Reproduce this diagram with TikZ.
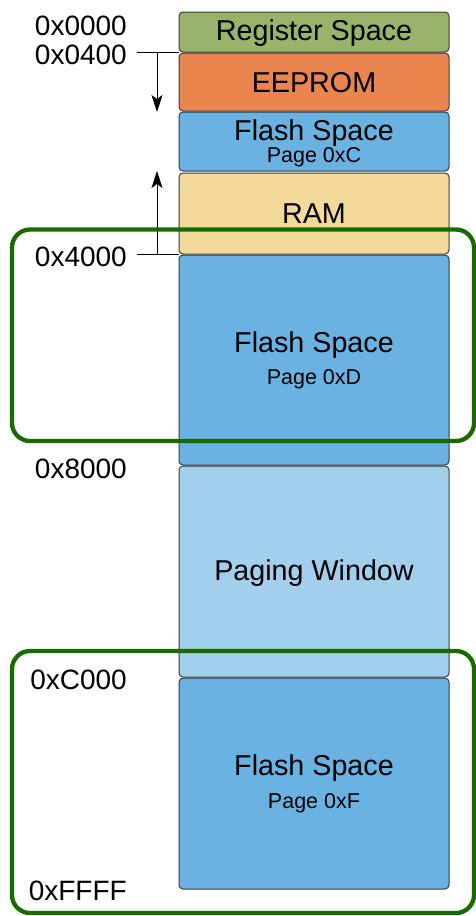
\documentclass[tikz,border=0pt]{standalone}
\usepackage{fontspec}
\setmainfont{Liberation Sans}
\usetikzlibrary{arrows.meta}
\definecolor{regc}{HTML}{97B46A}
\definecolor{eepc}{HTML}{EA8550}
\definecolor{flashc}{HTML}{6AB2E2}
\definecolor{ramc}{HTML}{F3DA9B}
\definecolor{pagec}{HTML}{A2CFEC}
\definecolor{framec}{HTML}{176B00}
\definecolor{edgec}{HTML}{3A3A3A}
\tikzset{
  memblk/.style={draw=edgec, line width=1pt, rounded corners=4pt, minimum width=270pt, inner sep=0pt, outer sep=0pt, anchor=north},
  bigtxt/.style={font=\fontsize{28.7}{31}\selectfont, anchor=base, inner sep=0pt},
  smalltxt/.style={font=\fontsize{21.5}{24}\selectfont, anchor=base, inner sep=0pt},
  addr/.style={font=\fontsize{28}{31}\selectfont, anchor=base east, inner sep=0pt},
  tickln/.style={line width=0.9pt, black},
  arr/.style={line width=0.9pt, black, -{Stealth[length=17pt, width=11pt, inset=4pt]}},
  gframe/.style={draw=framec, line width=4.3pt, rounded corners=18pt},
}
\begin{document}
\begin{tikzpicture}[x=1pt, y=-1pt]
\useasboundingbox (0,0) rectangle (476,916);
% memory blocks
\node[memblk, fill=regc, minimum height=40pt] (reg) at (314,12) {};
\node[memblk, fill=eepc, minimum height=58pt] (eep) at (314,53) {};
\node[memblk, fill=flashc, minimum height=59pt] (fc) at (314,112) {};
\node[memblk, fill=ramc, minimum height=81pt] (ram) at (314,173) {};
\node[memblk, fill=flashc, minimum height=210pt] (fd) at (314,255) {};
\node[memblk, fill=pagec, minimum height=211pt] (pw) at (314,466) {};
\node[memblk, fill=flashc, minimum height=211pt] (ff) at (314,678) {};
% block texts
\node[bigtxt] (treg) at (314,40.8) {Register Space};
\node[bigtxt] (teep) at (314,92.3) {EEPROM};
\node[bigtxt] (tfc) at (314,140.3) {Flash Space};
\node[smalltxt] (pfc) at (314,162.7) {Page 0xC};
\node[bigtxt] (tram) at (314,223.3) {RAM};
\node[bigtxt] (tfd) at (314,352.8) {Flash Space};
\node[smalltxt] (pfd) at (314,384.7) {Page 0xD};
\node[bigtxt] (tpw) at (314,580.3) {Paging Window};
\node[bigtxt] (tff) at (314,775.3) {Flash Space};
\node[smalltxt] (pff) at (314,808.7) {Page 0xF};
% addresses
\node[addr] (a0) at (127,35.5) {0x0000};
\node[addr] (a1) at (127,64) {0x0400};
\node[addr] (a4) at (127,266) {0x4000};
\node[addr] (a8) at (127,478.7) {0x8000};
\node[addr] (ac) at (127,689) {0xC000};
\node[addr] (af) at (127,900.7) {0xFFFF};
% ticks and arrows
\coordinate (k1) at (137,52);
\coordinate (k4) at (137,254);
\coordinate (d1) at (157,52);
\coordinate (u1) at (157,254);
\draw[tickln] (k1) -- (reg.south west);
\draw[tickln] (k4) -- (ram.south west);
\draw[arr] (d1) -- (d1 |- fc.north);
\draw[arr] (u1) -- (u1 |- fc.south);
% green frames
\draw[gframe] (12,229.5) rectangle (474,441);
\draw[gframe] (12,651) rectangle (474,913);
\end{tikzpicture}
\end{document}
